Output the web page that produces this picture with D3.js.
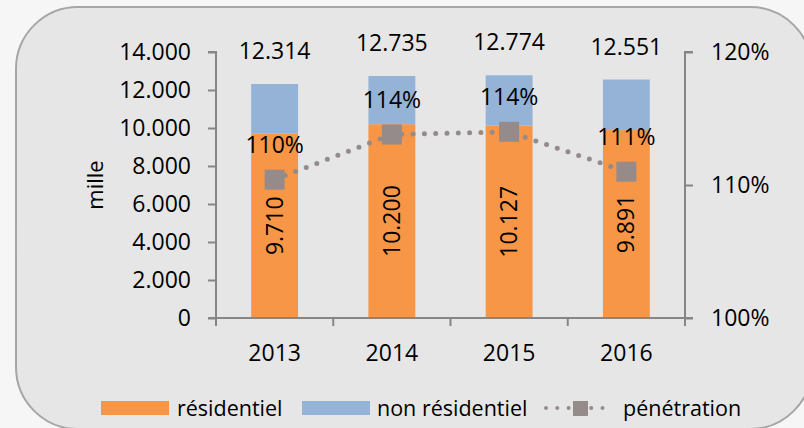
<!DOCTYPE html>
<html>
<head>
<meta charset="utf-8">
<script src="https://cdn.jsdelivr.net/npm/d3@7"></script>
<style>
  body { margin: 0; background: #f6f6f6; }
  svg { display: block; }
  text { font-family: "Open Sans", Lato, sans-serif; fill: #000; }
</style>
</head>
<body>
<svg width="804" height="428"></svg>
<script>
// chart data
var years = ["2013", "2014", "2015", "2016"];
var residentiel = [9710, 10200, 10127, 9891];
var nonResidentiel = [2604, 2535, 2647, 2660];
var totals = [12314, 12735, 12774, 12551];
var penetration = [110.4, 113.8, 114.0, 111.0];
var penLabels = ["110%", "114%", "114%", "111%"];
var leftTicks = [0, 2000, 4000, 6000, 8000, 10000, 12000, 14000];
var rightTicks = [100, 110, 120];

var svg = d3.select("svg");
var fontFam = "'Open Sans', Lato, sans-serif";

// fond arrondi
svg.append("rect")
    .attr("x", 16).attr("y", 7)
    .attr("width", 796).attr("height", 422)
    .attr("rx", 62).attr("ry", 62)
    .attr("fill", "#e6e6e6")
    .attr("stroke", "#a6a6a6")
    .attr("stroke-width", 2);

var margin = {left: 216, right: 685, top: 52, bottom: 318};

var x = d3.scaleBand().domain(years).range([margin.left, margin.right]).paddingInner(0).paddingOuter(0);
var y = d3.scaleLinear().domain([0, 14000]).range([margin.bottom, margin.top]);
var y2 = d3.scaleLinear().domain([100, 120]).range([margin.bottom, margin.top]);

var fmt = function(v) { return d3.format(",")(v).replace(/,/g, "."); };
var barW = x.bandwidth() * 0.4;

// barres empilées
var g = svg.append("g");
years.forEach(function(yr, i) {
  var cx = x(yr) + x.bandwidth() / 2;
  g.append("rect")
      .attr("x", cx - barW / 2).attr("width", barW)
      .attr("y", y(residentiel[i])).attr("height", y(0) - y(residentiel[i]))
      .attr("fill", "#f79646");
  g.append("rect")
      .attr("x", cx - barW / 2).attr("width", barW)
      .attr("y", y(totals[i])).attr("height", y(residentiel[i]) - y(totals[i]))
      .attr("fill", "#95b3d7");
  // valeur résidentiel verticale
  var my = (y(residentiel[i]) + y(0)) / 2;
  g.append("text")
      .attr("transform", "translate(" + cx + "," + my + ") rotate(-90)")
      .attr("text-anchor", "middle")
      .attr("dy", "0.35em")
      .style("font-size", "23px")
      .text(fmt(residentiel[i]));
  // total au-dessus
  g.append("text")
      .attr("x", cx)
      .attr("y", y(totals[i]) - 33)
      .attr("text-anchor", "middle")
      .attr("dy", "0.35em")
      .style("font-size", "23px")
      .text(fmt(totals[i]));
});

// axes
var axisColor = "#868686";
var yAxis = svg.append("g")
    .attr("transform", "translate(" + margin.left + ",0)")
    .call(d3.axisLeft(y).tickValues(leftTicks).tickSize(8).tickPadding(17).tickFormat(fmt));
var y2Axis = svg.append("g")
    .attr("transform", "translate(" + margin.right + ",0)")
    .call(d3.axisRight(y2).tickValues(rightTicks).tickSize(8).tickPadding(18).tickFormat(function(d) { return d + "%"; }));
var xAxis = svg.append("g")
    .attr("transform", "translate(0," + margin.bottom + ")")
    .call(d3.axisBottom(x).tickSize(0).tickPadding(27));

[yAxis, y2Axis, xAxis].forEach(function(a) {
  a.select(".domain").attr("stroke", axisColor).attr("stroke-width", 2);
  a.selectAll(".tick line").attr("stroke", axisColor).attr("stroke-width", 2);
  a.selectAll("text").style("font-size", "23px").style("font-family", fontFam).attr("fill", "#000");
});
yAxis.select(".domain").attr("d", "M0," + margin.bottom + "V" + margin.top + "H-8");
y2Axis.select(".domain").attr("d", "M0," + margin.bottom + "V" + margin.top + "H8");
xAxis.select(".domain").attr("d", "M" + (margin.left - 8) + ",0H" + (margin.right + 8));
// graduations de catégories
var xTicks = [margin.left].concat(years.map(function(d) { return x(d) + x.bandwidth(); }));
xAxis.selectAll(".cat-tick")
    .data(xTicks).enter().append("line")
    .attr("x1", function(d) { return d; }).attr("x2", function(d) { return d; })
    .attr("y1", 0).attr("y2", 8)
    .attr("stroke", axisColor).attr("stroke-width", 2);

// titre axe
svg.append("text")
    .attr("transform", "translate(95,185) rotate(-90)")
    .attr("text-anchor", "middle")
    .attr("dy", "0.35em")
    .style("font-size", "22px")
    .text("mille");

// ligne de pénétration
var penColor = "#958b8b";
var pts = years.map(function(yr, i) { return [x(yr) + x.bandwidth() / 2, y2(penetration[i])]; });
svg.append("path")
    .attr("d", d3.line()(pts))
    .attr("fill", "none")
    .attr("stroke", penColor)
    .attr("stroke-width", 5)
    .attr("stroke-linecap", "round")
    .attr("stroke-dasharray", "0 11.3");
svg.selectAll(".pen")
    .data(pts).enter().append("rect")
    .attr("x", function(d) { return d[0] - 10; })
    .attr("y", function(d) { return d[1] - 10; })
    .attr("width", 20).attr("height", 20)
    .attr("fill", penColor);
svg.selectAll(".penlab")
    .data(pts).enter().append("text")
    .attr("x", function(d) { return d[0]; })
    .attr("y", function(d) { return d[1] - 35; })
    .attr("text-anchor", "middle")
    .attr("dy", "0.35em")
    .style("font-size", "23px")
    .text(function(d, i) { return penLabels[i]; });

// légende
var leg = svg.append("g");
leg.append("rect").attr("x", 101).attr("y", 401).attr("width", 68).attr("height", 14).attr("fill", "#f79646");
leg.append("text").attr("x", 177).attr("y", 408).attr("dy", "0.35em").style("font-size", "21.5px").text("résidentiel");
leg.append("rect").attr("x", 302).attr("y", 401).attr("width", 68).attr("height", 14).attr("fill", "#95b3d7");
leg.append("text").attr("x", 377).attr("y", 408).attr("dy", "0.35em").style("font-size", "21.5px").text("non résidentiel");
leg.append("path")
    .attr("d", "M546,408H608")
    .attr("stroke", penColor).attr("stroke-width", 4)
    .attr("stroke-linecap", "round").attr("stroke-dasharray", "0 11.3");
leg.append("rect").attr("x", 573).attr("y", 401).attr("width", 15).attr("height", 15).attr("fill", penColor);
leg.append("text").attr("x", 623).attr("y", 408).attr("dy", "0.35em").style("font-size", "21.5px").text("pénétration");
</script>
</body>
</html>
